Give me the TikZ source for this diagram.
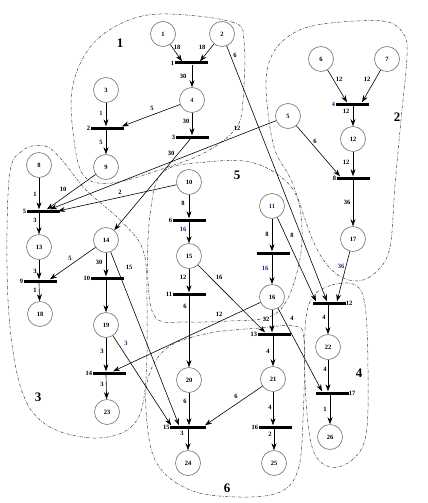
\documentclass[tikz,border=0pt]{standalone}
\usepackage{fontspec}
\setmainfont{Liberation Serif}
\usetikzlibrary{arrows.meta,calc}
\definecolor{navy}{RGB}{30,40,120}
\tikzset{
 place/.style={circle,draw=black!55,line width=0.6pt,minimum size=25pt,inner sep=0pt,font=\bfseries\fontsize{6.5}{7}\selectfont},
 trans/.style={rectangle,fill=black,minimum width=33pt,minimum height=3pt,inner sep=0pt,label distance=1.5pt},
 arc/.style={-{Stealth[length=7pt,width=5pt]},line width=0.6pt},
 lab/.style={font=\bfseries\fontsize{6.5}{7}\selectfont,inner sep=0pt},
 region/.style={dash pattern=on 3pt off 1.5pt on 0.6pt off 1.5pt,line width=0.5pt,draw=black!75},
 big/.style={font=\bfseries\fontsize{13}{14}\selectfont,inner sep=0pt}
}
\begin{document}
\begin{tikzpicture}[x=1pt,y=-1pt]
\useasboundingbox[fill=white] (0,0) rectangle (428,503);
% regions
\draw[region] plot[smooth cycle,tension=0.6] coordinates {(160,14) (232,22) (244,42) (243,100) (236,128) (206,152) (162,169) (112,183) (84,176) (74,140) (72,90) (88,50) (118,25)};
\draw[region] plot[smooth cycle,tension=0.6] coordinates {(323,24) (382,21) (403,33) (407,55) (401,120) (395,185) (390,247) (377,271) (357,281) (334,272) (314,243) (292,182) (274,147) (266,88) (272,55) (292,34)};
\draw[region] plot[smooth cycle,tension=0.6] coordinates {(22,151) (45,146) (62,160) (86,190) (120,220) (143,250) (147,300) (145,390) (131,427) (93,438) (45,424) (20,385) (8,300) (9,180)};
\draw[region] plot[smooth cycle,tension=0.6] coordinates {(163,172) (207,162) (250,162) (281,177) (298,200) (302,240) (296,276) (284,305) (266,318) (230,321) (186,322) (156,318) (148,280) (150,215)};
\draw[region] plot[smooth cycle,tension=0.6] coordinates {(170,346) (210,333) (260,328) (294,326) (304,340) (303,420) (298,470) (280,492) (240,497) (190,490) (156,462) (146,410) (150,372)};
\draw[region] plot[smooth cycle,tension=0.6] coordinates {(312,298) (332,285) (355,285) (365,305) (368,370) (366,435) (352,460) (330,467) (313,450) (306,400) (305,330)};
% big labels
\node[big] (r1) at (120,43) {1};
\node[big] (r2) at (397,117) {2};
\node[big] (r3) at (38,397) {3};
\node[big] (r4) at (359,373) {4};
\node[big] (r5) at (237,175) {5};
\node[big] (r6) at (227,488) {6};
% places
\node[place] (p1) at (163,34) {1};
\node[place] (p2) at (222,34) {2};
\node[place] (p3) at (106,90) {3};
\node[place,text=navy] (p4) at (192,100) {4};
\node[place] (p9) at (106,167) {9};
\node[place] (p5) at (288,116) {5};
\node[place] (p6) at (321,59) {6};
\node[place] (p7) at (387,59) {7};
\node[place] (p12) at (353,139) {12};
\node[place] (p17) at (353,239) {17};
\node[place] (p8) at (39,165) {8};
\node[place] (p13) at (39,247) {13};
\node[place] (p18) at (40,314) {18};
\node[place] (p14) at (106,240) {14};
\node[place] (p19) at (106,325) {19};
\node[place] (p23) at (107,412) {23};
\node[place] (p10) at (189,182) {10};
\node[place] (p15) at (189,256) {15};
\node[place,text=navy] (p11) at (272,206) {11};
\node[place] (p16) at (272,297) {16};
\node[place] (p20) at (189,380) {20};
\node[place] (p24) at (188,463) {24};
\node[place] (p21) at (273,379) {21};
\node[place] (p25) at (274,463) {25};
\node[place] (p22) at (328,347) {22};
\node[place] (p26) at (330,437) {26};
% transitions
\node[trans,label={[lab]left:1}] (t1) at (191,63) {};
\node[trans,label={[lab]left:2}] (t2) at (107,128) {};
\node[trans,label={[lab]left:3}] (t3) at (192,137) {};
\node[trans,label={[lab,text=navy]left:4}] (t4) at (352,104) {};
\node[trans,label={[lab]left:8}] (t8) at (353,178) {};
\node[trans,label={[lab]right:12}] (t12) at (329,303) {};
\node[trans,label={[lab]left:5}] (t5) at (43,211) {};
\node[trans,label={[lab]left:9}] (t9) at (40,281) {};
\node[trans,label={[lab]left:10}] (t10) at (107,278) {};
\node[trans,label={[lab]left:14}] (t14) at (109,373) {};
\node[trans,label={[lab]left:6}] (t6) at (189,220) {};
\node[trans,label={[lab]left:11}] (t11) at (189,294) {};
\node[trans] (t7) at (273,253) {};
\node[trans,label={[lab]left:13}] (t13) at (274,334) {};
\node[trans,minimum width=36pt,label={[lab]left:15}] (t15) at (188,427) {};
\node[trans,label={[lab]left:16}] (t16) at (275,427) {};
\node[trans,label={[lab]right:17}] (t17) at (332,393) {};
% arcs region 1
\draw[arc] (p1) -- ([xshift=-9pt]t1.north);
\draw[arc] (p2) -- ([xshift=9pt]t1.north);
\draw[arc] (t1.south -| p4) -- (p4);
\draw[arc] (p3) -- (t2.north -| p3);
\draw[arc] (p4) -- ([xshift=15pt]t2.north);
\draw[arc] (t2.south -| p9) -- (p9);
\draw[arc] (p4) -- (t3.north -| p4);
\draw[arc] (t3.center) -- (p14);
\draw[arc] (p2) -- ([xshift=-2pt]t12.north);
% region 2
\draw[arc] (p6) -- ([xshift=-5pt]t4.north);
\draw[arc] (p7) -- ([xshift=10pt]t4.north);
\draw[arc] (t4.south -| p12) -- (p12);
\draw[arc] (p12) -- (t8.north -| p12);
\draw[arc] (p5) -- ([xshift=-13pt]t8.north);
\draw[arc] (t8.south -| p17) -- (p17);
\draw[arc] (p17) -- ([xshift=8pt]t12.north);
\draw[arc] (p5) -- ([xshift=7pt]t5.north);
% region 3
\draw[arc] (p8) -- (t5.north -| p8);
\draw[arc] (p9) -- ([xshift=4pt]t5.north);
\draw[arc] (p10) -- ([xshift=15pt]t5.center);
\draw[arc] (t5.south -| p13) -- (p13);
\draw[arc] (p13) -- (t9.north -| p13);
\draw[arc] (p14) -- ([xshift=10pt]t9.north);
\draw[arc] (t9.south -| p13) -- (p18);
\draw[arc] (p14) -- (t10.north -| p14);
\draw[arc] (t10.south -| p19) -- (p19);
\draw[arc] (p14) -- ([xshift=-9pt]t15.north);
\draw[arc] (p19) -- (t14.north -| p19);
\draw[arc] (t14.south -| p19) -- (p23);
\draw[arc] (p19) -- ([xshift=-17pt]t15.north);
% region 5
\draw[arc] (p10) -- (t6.north -| p10);
\draw[arc] (t6.south -| p15) -- (p15);
\draw[arc] (p15) -- (t11.north -| p15);
\draw[arc] (t11.south -| p20) -- (p20);
\draw[arc] (p15) -- ([xshift=-9pt]t13.north);
\draw[arc] (p11) -- (t7.north -| p11);
\draw[arc] (t7.south -| p16) -- (p16);
\draw[arc] (p11) -- ([xshift=-13pt]t12.north);
\draw[arc] (p16) -- ([xshift=4pt]t14.north);
\draw[arc] (p16) -- (t13.north -| p16);
\draw[arc] (p16) -- ([xshift=-10pt]t17.north);
% region 6
\draw[arc] (t13.south -| p21) -- (p21);
\draw[arc] (p20) -- (t15.north -| p20);
\draw[arc] (p21) -- ([xshift=17pt]t15.north);
\draw[arc] (t15.south -| p24) -- (p24);
\draw[arc] (p21) -- (t16.north -| p21);
\draw[arc] (t16.south -| p25) -- (p25);
% region 4
\draw[arc] (t12.south -| p22) -- (p22);
\draw[arc] (p22) -- (t17.north -| p22);
\draw[arc] (t17.south -| p26) -- (p26);
% arc weights
\node[lab] (w1) at (177,47) {18};
\node[lab] (w2) at (202,47) {18};
\node[lab] (w3) at (183,76) {30};
\node[lab,text=navy] (w4) at (101,113) {1};
\node[lab] (w5) at (152,108) {5};
\node[lab] (w6) at (101,142) {5};
\node[lab] (w7) at (186,121) {30};
\node[lab] (w8) at (235,55) {6};
\node[lab] (w9) at (237,128) {12};
\node[lab] (w10) at (171,153) {30};
\node[lab] (w11) at (339,79) {12};
\node[lab] (w12) at (367,79) {12};
\node[lab] (w13) at (346,111) {12};
\node[lab] (w14) at (346,162) {12};
\node[lab] (w15) at (315,141) {6};
\node[lab] (w16) at (347,202) {36};
\node[lab,text=navy] (w17) at (341,266) {36};
\node[lab] (w18) at (35,194) {1};
\node[lab] (w19) at (63,189) {10};
\node[lab] (w20) at (120,192) {2};
\node[lab] (w21) at (35,220) {3};
\node[lab] (w22) at (35,271) {3};
\node[lab] (w23) at (35,290) {1};
\node[lab] (w24) at (70,258) {5};
\node[lab] (w25) at (99,262) {30};
\node[lab] (w26) at (129,267) {15};
\node[lab] (w27) at (102,351) {3};
\node[lab] (w28) at (102,384) {3};
\node[lab,text=navy] (w29) at (126,343) {3};
\node[lab] (w30) at (183,203) {8};
\node[lab,text=navy] (w31) at (183,229) {16};
\node[lab] (w32) at (183,277) {12};
\node[lab] (w33) at (219,277) {16};
\node[lab] (w34) at (185,306) {6};
\node[lab] (w35) at (267,234) {8};
\node[lab,text=navy] (w36) at (265,268) {16};
\node[lab] (w37) at (292,235) {8};
\node[lab] (w38) at (219,314) {12};
\node[lab] (w39) at (266,319) {32};
\node[lab] (w40) at (292,318) {4};
\node[lab] (w41) at (268,351) {4};
\node[lab] (w42) at (185,401) {6};
\node[lab] (w43) at (182,433) {3};
\node[lab] (w44) at (236,396) {6};
\node[lab] (w45) at (270,407) {4};
\node[lab] (w46) at (270,434) {2};
\node[lab] (w47) at (324,317) {4};
\node[lab] (w48) at (325,369) {4};
\node[lab] (w49) at (325,409) {1};
\end{tikzpicture}
\end{document}
